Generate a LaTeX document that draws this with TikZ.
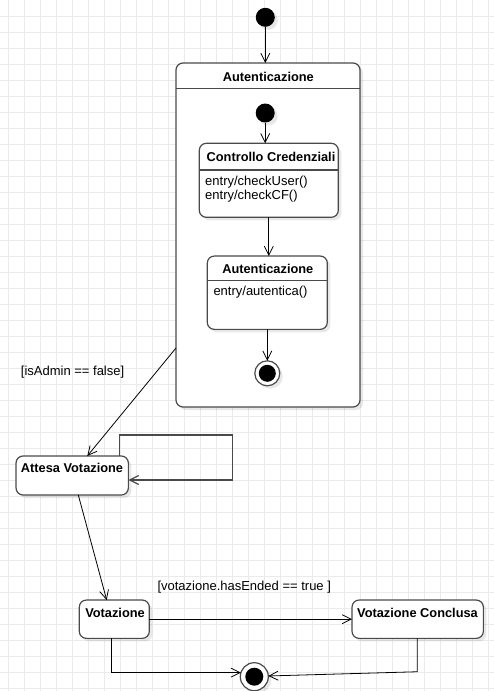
\documentclass[tikz,border=0pt]{standalone}
\usepackage{fontspec}
\setmainfont{Liberation Sans}
\usetikzlibrary{arrows.meta,calc,shadows}
\definecolor{gridc}{HTML}{EBEBEB}
\definecolor{boxc}{HTML}{4A4A4A}
\begin{document}
\begin{tikzpicture}[x=1pt,y=-1pt,
  shad/.style={drop shadow={shadow xshift=3pt,shadow yshift=-3pt,fill=black,opacity=0.09}},
  box/.style={draw=boxc,line width=1.2pt,fill=white,rounded corners=7pt,inner sep=0pt,outer sep=0pt,shad},
  sepline/.style={draw=boxc,line width=1.2pt},
  dot/.style={circle,fill=black,inner sep=0pt,outer sep=0pt},
  fin/.style={circle,draw=boxc,line width=1.2pt,fill=white,inner sep=0pt,outer sep=0pt,shad},
  ttl/.style={inner sep=0pt,font=\fontsize{12.8}{15}\selectfont\bfseries},
  ent/.style={inner sep=0pt,font=\fontsize{13}{15}\selectfont},
  conn/.style={draw=black,line width=0.8pt,-{Straight Barb[length=9pt,width=9pt]}},
  loopc/.style={draw=boxc,line width=1.2pt,-{Straight Barb[length=9pt,width=9pt]}}]
\useasboundingbox (0,0) rectangle (494,691);
\fill[white] (0,0) rectangle (494,691);
\foreach \x in {8,24,...,488} \draw[gridc,line width=0.8pt] (\x,0) -- (\x,691);
\foreach \y in {16,32,...,688} \draw[gridc,line width=0.8pt] (0,\y) -- (494,\y);

% top initial
\node[dot,minimum size=19,shad] (init1) at (265.3,17.3) {};

% outer composite state
\node[box,minimum width=184,minimum height=344] (outer) at (268,235) {};
\draw[sepline] (outer.west |- 0,88.7) -- (outer.east |- 0,88.7);
\node[ttl,anchor=base] (outerT) at (268.3,81) {Autenticazione};

\node[dot,minimum size=19,shad] (init2) at (265.2,113) {};

\node[box,minimum width=139,minimum height=74] (cc) at (268.8,180.3) {};
\draw[sepline] (cc.west |- 0,170) -- (cc.east |- 0,170);
\node[ttl,anchor=base] (ccT) at (271,161.7) {Controllo Credenziali};
\node[ent,anchor=base west] (cc1) at (205,185) {entry/checkUser()};
\node[ent,anchor=base west] (cc2) at (205,199) {entry/checkCF()};

\node[box,minimum width=120,minimum height=73.3] (aut2) at (267.3,292.7) {};
\draw[sepline] (aut2.west |- 0,280.7) -- (aut2.east |- 0,280.7);
\node[ttl,anchor=base] (aut2T) at (267.8,273.3) {Autenticazione};
\node[ent,anchor=base west] (aut2e) at (213.3,295) {entry/autentica()};

\node[fin,minimum size=25] (final1) at (267.3,373.3) {};
\node[dot,minimum size=17] (final1in) at (final1) {};

% lower states
\node[box,minimum width=112.3,minimum height=39] (att) at (72.2,475.5) {};
\node[ttl,anchor=base] (attT) at (72,472.7) {Attesa Votazione};

\node[box,minimum width=70,minimum height=38.3] (vot) at (114.3,619.2) {};
\node[ttl,anchor=base] (votT) at (115,617.7) {Votazione};

\node[box,minimum width=131.3,minimum height=38.3] (vc) at (417.7,619.2) {};
\node[ttl,anchor=base] (vcT) at (417.5,617.5) {Votazione Conclusa};

\node[fin,minimum size=28] (final2) at (254.3,676.7) {};
\node[dot,minimum size=18] (final2in) at (final2) {};

% guards
\node[ent,anchor=base west] (g1) at (20.7,375) {[isAdmin == false]};
\node[ent,anchor=base west] (g2) at (157.3,590.7) {[votazione.hasEnded == true ]};

% connectors
\draw[conn] (init1) -- (init1 |- outer.north);
\draw[conn] (init2) -- (init2 |- cc.north);
\draw[conn] (cc.south) -- (cc.south |- aut2.north);
\draw[conn] (aut2) -- (final1);

\coordinate (outerL) at ($(outer.south west)+(0,-59)$);
\coordinate (attTop) at ($(att.north)+(15.1,0)$);
\draw[conn] (outerL) -- (attTop);

\coordinate (lpS) at ($(att.north)+(47.1,0)$);
\coordinate (lpA) at (232.3,435);
\coordinate (lpB) at (232.3,480);
\draw[loopc] (lpS) |- (lpA) -- (lpB) -- (lpB -| att.east);

\coordinate (attB) at ($(att.south)+(6.1,0)$);
\coordinate (votTop) at ($(vot.north)+(-7.6,0)$);
\draw[conn] (attB) -- (votTop);

\draw[conn] (vot) -- (vc);

\coordinate (votB) at ($(vot.south)+(-2.6,0)$);
\draw[conn] (votB) |- (final2.163);

\coordinate (vcB) at ($(vc.south)+(-0.4,0)$);
\coordinate (vcC) at ($(vcB)+(0,33.4)$);
\draw[conn] (vcB) -- (vcC) -- (final2.3);
\end{tikzpicture}
\end{document}
